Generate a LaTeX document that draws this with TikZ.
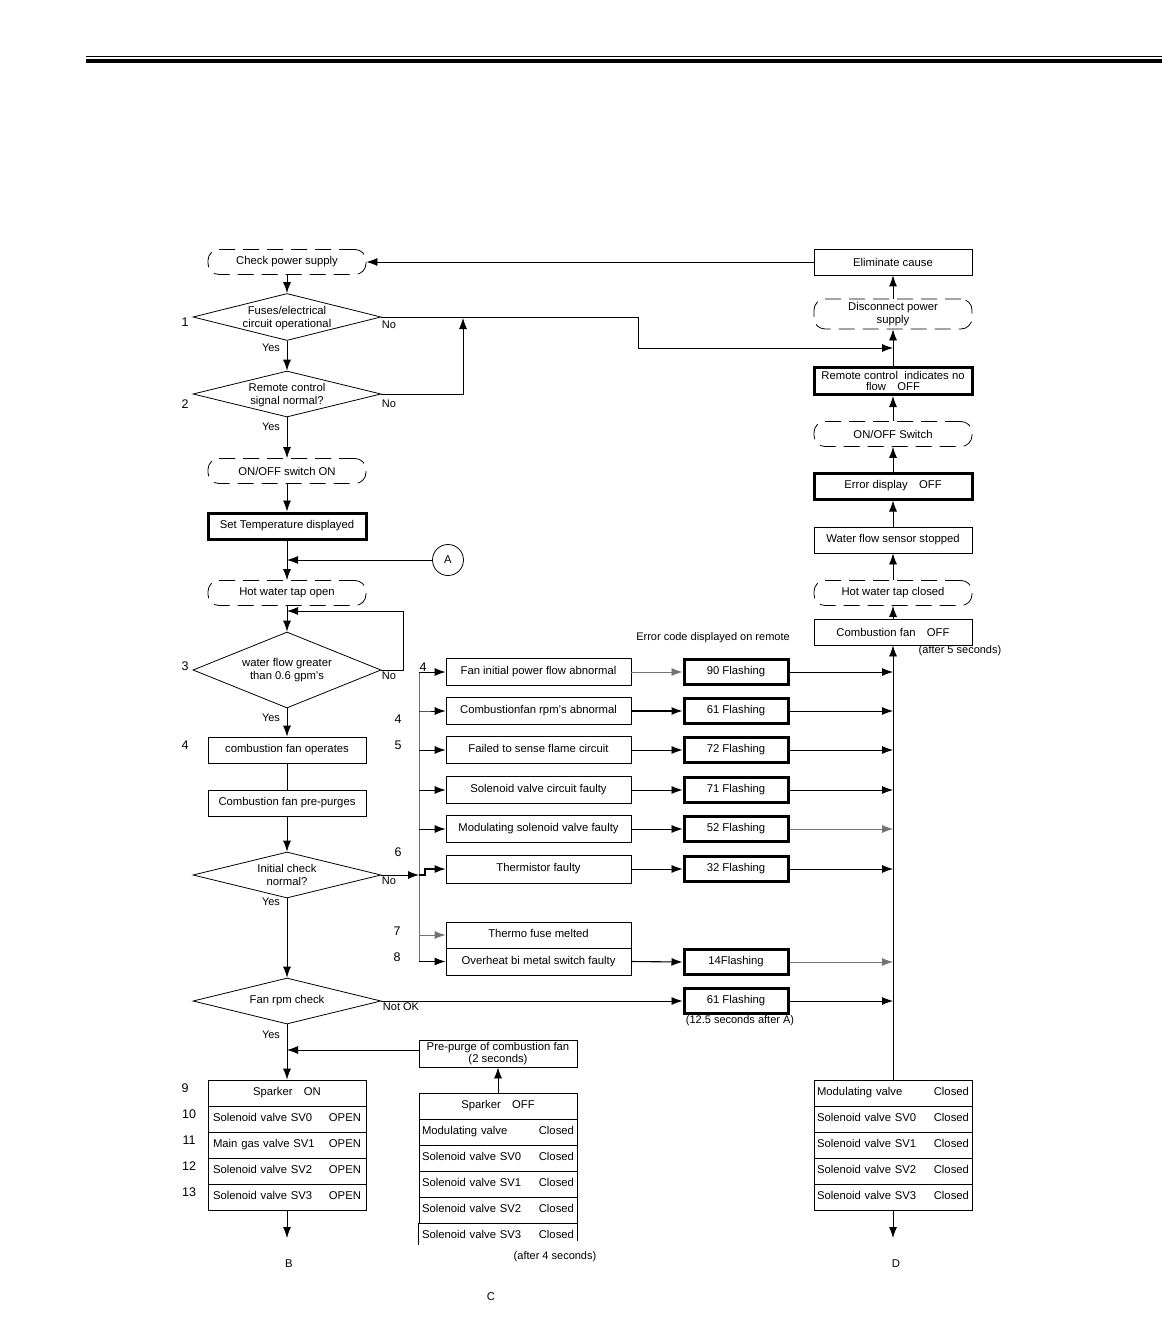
\documentclass[tikz,border=0pt]{standalone}
\usepackage{fontspec}
\setmainfont{Liberation Sans}
\usetikzlibrary{arrows.meta,shapes.geometric}
\tikzset{
 ln/.style={line width=0.8pt},
 arr/.style={ln, -{Latex[length=11pt,width=8pt]}},
 garr/.style={arr, draw=black!55},
 gln/.style={line width=0.7pt, draw=black!55},
 box/.style={draw, line width=0.8pt, minimum width=158pt, minimum height=26pt, align=center},
 tbox/.style={box, line width=3pt},
 term/.style={draw, line width=0.8pt, dash pattern=on 16pt off 8pt, rounded corners=11pt, minimum width=158pt, minimum height=25pt, align=center},
 dia/.style={draw, line width=0.8pt, shape=diamond, minimum width=188pt, minimum height=#1, inner sep=0pt},
 dtxt/.style={align=center, inner sep=0pt},
 ebox/.style={box, minimum width=185pt, minimum height=27pt, text height=8.3pt, text depth=2.6pt},
 fbox/.style={tbox, minimum width=104pt, minimum height=25pt, text height=8.3pt, text depth=2.6pt},
 rowA/.style={draw, line width=0.8pt, text width=148pt, inner xsep=5pt, inner ysep=0pt, minimum height=26pt, align=left, text height=8.3pt, text depth=2.6pt},
 rowB/.style={rowA, text width=152pt, inner xsep=3pt},
 num/.style={font=\fontsize{12.5}{14}\selectfont, inner sep=0pt},
 yn/.style={font=\fontsize{11}{12}\selectfont, inner sep=0pt},
 note/.style={font=\fontsize{11}{12}\selectfont, inner sep=0pt},
}
\begin{document}
\begin{tikzpicture}[x=1pt,y=-1pt, every node/.append style={font=\fontsize{11.3}{12.8}\selectfont}]
\useasboundingbox (0,0) rectangle (1162,1321);
% header rules
\coordinate (h1) at (86,56);
\coordinate (h2) at (1162,56);
\draw[line width=0.9pt] (h1) -- (h2);
\fill (86,59.5) rectangle (1162,63.5);

% ---------- left column ----------
\node[term] (cps) at (287,262) {Check power supply};
\node[dia=47pt] (d1) at (287,317) {};
\node[dtxt] (d1t) at (287,318) {Fuses/electrical\\circuit operational};
\node[dia=46pt] (d2) at (287,394) {};
\node[dtxt] (d2t) at (287,395) {Remote control\\signal normal?};
\node[term] (onon) at (287,471) {ON/OFF switch ON};
\node[tbox, minimum height=26pt] (stemp) at (287,526) {Set Temperature displayed};
\node[draw, ln, circle, minimum size=31pt, inner sep=0pt] (A) at (448,560) {A};
\node[term] (hwo) at (287,593) {Hot water tap open};
\node[dia=76pt] (d3) at (287,670) {};
\node[dtxt] (d3t) at (287,670) {water flow greater\\than 0.6 gpm's};
\node[box] (cfo) at (287,750) {combustion fan operates};
\node[box] (cfp) at (287,803) {Combustion fan pre-purges};
\node[dia=46pt] (d4) at (287,875) {};
\node[dtxt] (d4t) at (287,875) {Initial check\\normal?};
\node[dia=46pt] (d5) at (287,1001) {};
\node[dtxt] (d5t) at (287,1001) {Fan rpm check};
\coordinate (jA) at (287,560);
\coordinate (jL) at (287,611);
\coordinate (jB) at (287,1050);

% Sparker ON table
\node[rowA, align=center] (s1) at (287,1093) {Sparker\quad ON};
\node[rowA] (s2) at (287,1119) {Solenoid valve SV0\hfill OPEN};
\node[rowA] (s3) at (287,1145) {Main gas valve SV1\hfill OPEN};
\node[rowA] (s4) at (287,1171) {Solenoid valve SV2\hfill OPEN};
\node[rowA] (s5) at (287,1197) {Solenoid valve SV3\hfill OPEN};
\coordinate (Bend) at (287,1238);
\node (B) at (289,1264) {B};

% numbers left
\node[num] (n1) at (185,322) {1};
\node[num] (n2) at (185,404) {2};
\node[num] (n3) at (185,666) {3};
\node[num] (n4) at (185,745) {4};
\node[num] (n9) at (185,1088) {9};
\node[num] (n10) at (189,1114) {10};
\node[num] (n11) at (189,1140) {11};
\node[num] (n12) at (189,1166) {12};
\node[num] (n13) at (189,1192) {13};

% yes / no labels
\node[yn] (y1) at (271,348) {Yes};
\node[yn] (y2) at (271,427) {Yes};
\node[yn] (y3) at (271,718) {Yes};
\node[yn] (y4) at (271,902) {Yes};
\node[yn] (y5) at (271,1035) {Yes};
\node[yn] (no1) at (389,325) {No};
\node[yn] (no2) at (389,404) {No};
\node[yn] (no3) at (389,676) {No};
\node[yn] (no4) at (389,881) {No};
\node[yn] (no5) at (401,1007) {Not OK};

% ---------- right column ----------
\node[box] (elim) at (893,262) {Eliminate cause};
\node[term, minimum height=30pt, inner sep=1pt] (dps) at (893,314) {Disconnect power\\supply};
\node[tbox, minimum height=27pt, inner sep=0pt, font=\fontsize{11.3}{11.8}\selectfont] (rc) at (893,381) {Remote control\ \ indicates no\\flow\quad OFF};
\node[term] (oos) at (893,434) {ON/OFF Switch};
\node[tbox] (ed) at (893,486) {Error display\quad OFF};
\node[box] (wfs) at (893,540) {Water flow sensor stopped};
\node[term] (hwc) at (893,593) {Hot water tap closed};
\node[box] (cfoff) at (893,632) {Combustion fan\quad OFF};
\node[note] (a5) at (960,651) {(after 5 seconds)};
\coordinate (jR) at (893,348);
\coordinate (jD) at (463,318);

% right table
\node[rowB] (r1) at (893,1093) {Modulating valve\hfill Closed};
\node[rowB] (r2) at (893,1119) {Solenoid valve SV0\hfill Closed};
\node[rowB] (r3) at (893,1145) {Solenoid valve SV1\hfill Closed};
\node[rowB] (r4) at (893,1171) {Solenoid valve SV2\hfill Closed};
\node[rowB] (r5) at (893,1197) {Solenoid valve SV3\hfill Closed};
\coordinate (Dend) at (893,1238);
\node (D) at (896,1264) {D};

% ---------- middle ----------
\node[note] (ecode) at (713,638) {Error code displayed on remote};
\node[ebox] (e1) at (538.5,672) {Fan initial power flow abnormal};
\node[ebox] (e2) at (538.5,711) {Combustionfan rpm's abnormal};
\node[ebox] (e3) at (538.5,750) {Failed to sense flame circuit};
\node[ebox] (e4) at (538.5,790) {Solenoid valve circuit faulty};
\node[ebox] (e5) at (538.5,829) {Modulating solenoid valve faulty};
\node[ebox, minimum height=28pt] (e6) at (538.5,869) {Thermistor faulty};
\node[ebox, minimum height=26pt] (e7) at (538.5,935) {Thermo fuse melted};
\node[ebox, minimum height=27pt] (e8) at (538.5,961.5) {Overheat bi metal switch faulty};

\node[fbox] (f1) at (736,672) {90 Flashing};
\node[fbox] (f2) at (736,711) {61 Flashing};
\node[fbox] (f3) at (736,750) {72 Flashing};
\node[fbox] (f4) at (736,790) {71 Flashing};
\node[fbox] (f5) at (736,829) {52 Flashing};
\node[fbox] (f6) at (736,869) {32 Flashing};
\node[fbox] (f8) at (736,962) {14Flashing};
\node[fbox] (f9) at (736,1001) {61 Flashing};
\node[note] (a12) at (740,1021) {(12.5 seconds after A)};

\node[num] (m4a) at (423,667) {4};
\node[num] (m4b) at (398,719) {4};
\node[num] (m5) at (398,745) {5};
\node[num] (m6) at (398,852) {6};
\node[num] (m7) at (397,931) {7};
\node[num] (m8) at (397,957) {8};

\coordinate (vtop) at (419,672);
\coordinate (vbot) at (419,962);

% pre-purge and sparker off table
\node[box, minimum height=27pt, inner sep=1pt, font=\fontsize{11.3}{12}\selectfont] (pp) at (498,1053.5) {Pre-purge of combustion fan\\(2 seconds)};
\node[rowB, align=center] (c1) at (498,1106) {Sparker\quad OFF};
\node[rowB] (c2) at (498,1132) {Modulating valve\hfill Closed};
\node[rowB] (c3) at (498,1158) {Solenoid valve SV0\hfill Closed};
\node[rowB] (c4) at (498,1184) {Solenoid valve SV1\hfill Closed};
\node[rowB] (c5) at (498,1210) {Solenoid valve SV2\hfill Closed};
\node[rowB, draw=none] (c6) at (498,1236) {Solenoid valve SV3\hfill Closed};
\draw[ln] (c6.north west) -- ++(0,22);
\draw[ln] (c6.north east) -- ++(0,18);
\node[note] (a4) at (555,1257) {(after 4 seconds)};
\node (C) at (491,1297) {C};

% ---------- connectors: left column ----------
\draw[arr] (elim.west) -- (cps.east);
\draw[arr] (cps.south) -- (d1.north);
\draw[arr] (d1.south) -- (d2.north);
\draw[arr] (d2.south) -- (onon.north);
\draw[arr] (onon.south) -- (stemp.north);
\draw[arr] (stemp.south) -- (hwo.north);
\draw[arr] (A.west) -- (jA);
\draw[arr] (hwo.south) -- (d3.north);
\draw[arr] (d3.east) -- ++(22,0) |- (jL);
\draw[arr] (d3.south) -- (cfo.north);
\draw[ln] (cfo.south) -- (cfp.north);
\draw[arr] (cfp.south) -- (d4.north);
\draw[arr] (d4.south) -- (d5.north);
\draw[arr] (d5.south) -- (s1.north);
\draw[arr] (pp.west |- jB) -- (jB);
\draw[arr] (s5.south) -- (Bend);
\draw[arr] (c1.north) -- (pp.south);

% No branches to right column
\draw[arr] (d1.east) -- ++(257,0) |- (jR);
\draw[arr] (d2.east) -| (jD);

% right column arrows
\draw[arr] (cfoff.north) -- (hwc.south);
\draw[arr] (hwc.north) -- (wfs.south);
\draw[arr] (wfs.north) -- (ed.south);
\draw[arr] (ed.north) -- (oos.south);
\draw[arr] (oos.north) -- (rc.south);
\draw[arr] (rc.north) -- (dps.south);
\draw[arr] (dps.north) -- (elim.south);
\draw[arr] (r1.north) -- (cfoff.south);
\draw[arr] (r5.south) -- (Dend);

% middle vertical distributor
\draw[gln] (vtop) -- (vbot);
\draw[arr] (vtop) -- (e1.west);
\draw[arr] (e2.west -| vtop) -- ++(8,0) -- (e2.west);
\draw[arr] (e3.west -| vtop) -- (e3.west);
\draw[arr] (e4.west -| vtop) -- (e4.west);
\draw[arr] (e5.west -| vtop) -- (e5.west);
\draw[arr] (d4.east) -- (d4.east -| vtop);
\draw[arr, line width=1.2pt] (d4.east -| vtop) -- ++(6,0) |- (e6.west);
\draw[garr] (e7.west -| vtop) -- (e7.west);
\draw[arr, line width=1.1pt] (e8.west -| vtop) -- (e8.west);

% errors to flashing
\draw[garr] (e1.east) -- (f1.west);
\draw[arr, line width=1.1pt] (e2.east) -- (f2.west);
\draw[arr] (e3.east) -- (f3.west);
\draw[arr] (e4.east) -- (f4.west);
\draw[arr] (e5.east) -- (f5.west);
\draw[arr] (e6.east) -- (f6.west);
\draw[arr, line width=1.1pt] (e8.east) -- (f8.west);
\draw[arr] (d5.east) -- (f9.west);

% flashing to spine
\draw[arr] (f1.east) -- (f1.east -| cfoff.south);
\draw[arr] (f2.east) -- (f2.east -| cfoff.south);
\draw[arr] (f3.east) -- (f3.east -| cfoff.south);
\draw[arr] (f4.east) -- (f4.east -| cfoff.south);
\draw[garr] (f5.east) -- (f5.east -| cfoff.south);
\draw[arr] (f6.east) -- (f6.east -| cfoff.south);
\draw[garr] (f8.east) -- (f8.east -| cfoff.south);
\draw[arr] (f9.east) -- (f9.east -| cfoff.south);
\end{tikzpicture}
\end{document}
